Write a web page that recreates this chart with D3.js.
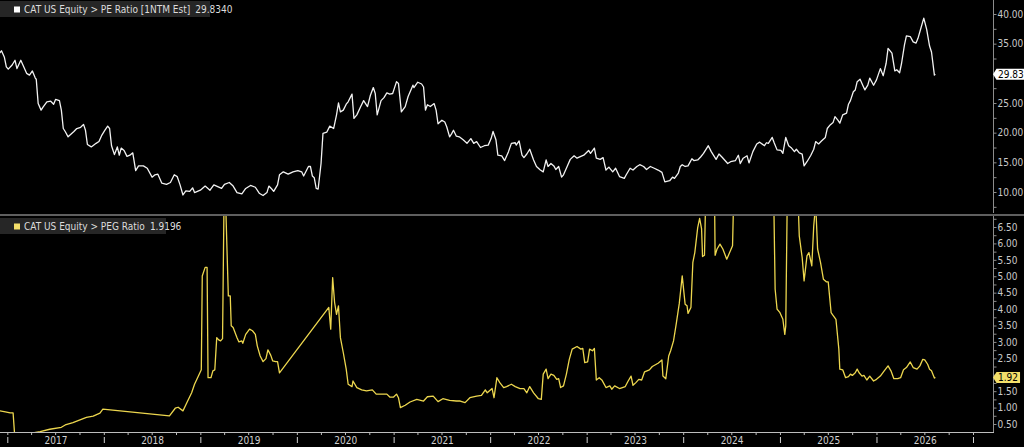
<!DOCTYPE html>
<html>
<head>
<meta charset="utf-8">
<script src="https://cdn.jsdelivr.net/npm/d3@7"></script>
<style>
  html, body { margin: 0; padding: 0; background: #000; }
  svg { display: block; }
  text { font-family: "Liberation Sans Narrow", "Arial Narrow", "DejaVu Sans Condensed", sans-serif; }
</style>
</head>
<body>
<div id="chart"></div>
<script>
// dates are decimal years
const peYears = [
  2016.92, 2016.94, 2016.97, 2016.99, 2017.01, 2017.05, 2017.08, 2017.10, 2017.14, 2017.17, 2017.20, 2017.23, 2017.26, 2017.29, 2017.30, 2017.32, 2017.35, 2017.37, 2017.41, 2017.45, 2017.48, 2017.50, 2017.54, 2017.56, 2017.58, 2017.60, 2017.63, 2017.67, 2017.69, 2017.72, 2017.76, 2017.79, 2017.81, 2017.83, 2017.87, 2017.92, 2017.95, 2017.98,
  2018.01, 2018.04, 2018.06, 2018.08, 2018.11, 2018.14, 2018.16, 2018.18, 2018.21, 2018.24, 2018.27, 2018.30, 2018.33, 2018.36, 2018.41, 2018.45, 2018.50, 2018.53, 2018.56, 2018.60, 2018.65, 2018.69, 2018.73, 2018.76, 2018.79, 2018.82, 2018.85, 2018.89, 2018.92, 2018.94,
  2019.00, 2019.05, 2019.10, 2019.14, 2019.18, 2019.22, 2019.25, 2019.30, 2019.34, 2019.38, 2019.43, 2019.47, 2019.52, 2019.57, 2019.61, 2019.65, 2019.69, 2019.71, 2019.74, 2019.76, 2019.80, 2019.82, 2019.86, 2019.91, 2019.96,
  2020.01, 2020.05, 2020.07, 2020.12, 2020.14, 2020.16, 2020.18, 2020.20, 2020.22, 2020.25, 2020.27, 2020.31, 2020.34, 2020.38, 2020.41, 2020.43, 2020.45, 2020.48, 2020.51, 2020.53, 2020.57, 2020.59, 2020.62, 2020.66, 2020.69, 2020.73, 2020.76, 2020.79, 2020.81, 2020.83, 2020.87, 2020.90, 2020.93, 2020.96, 2020.99,
  2021.03, 2021.05, 2021.08, 2021.12, 2021.15, 2021.20, 2021.21, 2021.25, 2021.29, 2021.31, 2021.33, 2021.35, 2021.38, 2021.42, 2021.44, 2021.46, 2021.50, 2021.53, 2021.55, 2021.58, 2021.60, 2021.62, 2021.65, 2021.68, 2021.72, 2021.76, 2021.80, 2021.83, 2021.86, 2021.90, 2021.94, 2021.98,
  2022.01, 2022.03, 2022.06, 2022.08, 2022.12, 2022.15, 2022.19, 2022.22, 2022.26, 2022.27, 2022.30, 2022.33, 2022.35, 2022.38, 2022.41, 2022.45, 2022.48, 2022.52, 2022.55, 2022.58, 2022.60, 2022.63, 2022.66, 2022.68, 2022.71, 2022.74, 2022.76, 2022.80, 2022.83, 2022.87, 2022.90, 2022.94, 2022.97,
  2023.02, 2023.04, 2023.08, 2023.10, 2023.14, 2023.17, 2023.20, 2023.23, 2023.27, 2023.30, 2023.34, 2023.39, 2023.41, 2023.45, 2023.48, 2023.52, 2023.55, 2023.59, 2023.62, 2023.66, 2023.70, 2023.74, 2023.78, 2023.81, 2023.86, 2023.89, 2023.91, 2023.95, 2023.97, 2023.99,
  2024.02, 2024.05, 2024.09, 2024.11, 2024.15, 2024.18, 2024.21, 2024.26, 2024.29, 2024.34, 2024.37, 2024.40, 2024.46, 2024.49, 2024.54, 2024.57, 2024.59, 2024.62, 2024.66, 2024.68, 2024.72, 2024.76, 2024.79, 2024.84, 2024.86, 2024.88, 2024.92, 2024.94, 2024.97,
  2025.01, 2025.03, 2025.06, 2025.09, 2025.12, 2025.15, 2025.17, 2025.20, 2025.23, 2025.25, 2025.28, 2025.32, 2025.35, 2025.37, 2025.40, 2025.43, 2025.47, 2025.49, 2025.52, 2025.55, 2025.57, 2025.60, 2025.62, 2025.65, 2025.69, 2025.71, 2025.73, 2025.76, 2025.78, 2025.80, 2025.83, 2025.86, 2025.88, 2025.91, 2025.93, 2025.97,
  2026.00, 2026.04, 2026.07, 2026.10, 2026.12, 2026.16, 2026.19, 2026.21, 2026.24, 2026.26, 2026.29, 2026.31, 2026.35, 2026.38, 2026.41, 2026.43, 2026.46, 2026.49, 2026.52, 2026.55, 2026.57, 2026.60, 2026.61
];
const peValues = [
  33.4, 33.8, 32.7, 31.1, 30.7, 31.4, 32.2, 30.8, 32.2, 31.1, 30.0, 29.7, 30.4, 29.2, 29.0, 24.9, 23.8, 24.3, 25.2, 25.3, 24.8, 25.6, 25.4, 23.8, 20.7, 20.2, 19.3, 19.9, 20.2, 20.7, 20.9, 21.4, 20.4, 18.0, 17.6, 18.2, 18.5, 19.6,
  20.4, 21.1, 20.7, 17.8, 16.3, 17.6, 16.2, 17.4, 17.0, 16.0, 16.2, 16.6, 13.6, 14.4, 14.4, 14.0, 12.5, 12.9, 13.0, 11.5, 11.3, 11.6, 12.9, 12.6, 11.2, 9.5, 10.2, 10.1, 10.7, 9.9,
  10.3, 11.0, 10.3, 11.2, 10.9, 10.6, 11.3, 11.6, 11.0, 9.9, 9.7, 10.6, 11.1, 10.8, 9.8, 9.4, 9.9, 11.0, 10.5, 10.1, 11.2, 12.9, 13.4, 13.0, 13.4,
  13.6, 13.4, 12.7, 14.3, 14.3, 12.7, 12.4, 10.6, 10.5, 14.8, 19.9, 20.1, 21.1, 20.7, 23.0, 25.0, 23.5, 23.8, 24.8, 25.2, 26.5, 22.4, 23.0, 24.4, 25.4, 24.4, 26.3, 27.6, 26.6, 23.0, 25.4, 25.9, 26.7, 26.5, 26.6,
  28.6, 28.3, 23.5, 24.4, 26.1, 28.0, 27.6, 28.5, 28.2, 27.7, 23.8, 24.7, 24.4, 24.9, 23.8, 21.5, 22.1, 21.8, 21.0, 19.3, 19.8, 20.4, 19.4, 19.3, 18.8, 18.2, 19.0, 18.2, 18.5, 17.5, 17.8, 17.9,
  19.0, 20.2, 18.8, 16.2, 16.1, 15.3, 16.8, 18.2, 18.3, 17.9, 18.6, 16.2, 15.8, 16.4, 17.2, 15.4, 14.3, 13.7, 13.4, 15.4, 14.3, 14.8, 14.4, 13.8, 14.3, 12.5, 12.9, 14.4, 15.5, 16.1, 15.7, 16.0, 16.2,
  17.0, 16.5, 17.4, 15.7, 15.5, 15.8, 13.7, 14.2, 13.4, 14.0, 12.6, 12.3, 12.9, 14.0, 13.7, 14.3, 14.6, 14.3, 13.8, 14.3, 14.0, 13.7, 13.3, 11.7, 11.9, 12.5, 12.3, 13.2, 14.3, 14.6,
  14.3, 14.4, 15.6, 15.3, 15.4, 15.9, 16.5, 17.8, 16.8, 15.5, 16.4, 15.9, 14.8, 15.1, 15.3, 16.2, 14.8, 15.7, 16.1, 14.9, 16.8, 18.1, 18.4, 17.8, 18.3, 18.2, 19.2, 18.3, 17.1,
  17.0, 16.5, 19.2, 17.8, 17.4, 16.8, 17.2, 16.6, 16.4, 14.4, 15.1, 16.2, 17.2, 18.5, 18.1, 18.6, 19.2, 20.7, 21.3, 21.7, 22.7, 22.1, 21.6, 23.0, 23.3, 24.8, 25.4, 26.9, 27.2, 28.6, 29.0, 27.9, 27.2, 28.0, 29.2, 28.0,
  28.9, 30.8, 29.6, 31.7, 34.2, 33.4, 30.4, 30.6, 30.1, 31.7, 34.8, 36.3, 36.2, 35.3, 35.1, 35.9, 37.6, 39.3, 37.4, 34.6, 33.6, 29.7, 29.834
];

const pegYears = [
  2016.92, 2016.98, 2017.03, 2017.06, 2017.08, 2017.23, 2017.25, 2017.34, 2017.44, 2017.56, 2017.60, 2017.68, 2017.82, 2017.89, 2017.96, 2017.99,
  2018.68, 2018.74, 2018.77, 2018.82, 2018.86, 2018.91, 2018.94, 2018.98,
  2019.01, 2019.02, 2019.05, 2019.07, 2019.08, 2019.11, 2019.13, 2019.15, 2019.17, 2019.19, 2019.21, 2019.23, 2019.25, 2019.29, 2019.31, 2019.32, 2019.34, 2019.38, 2019.40, 2019.43, 2019.44, 2019.47, 2019.51, 2019.54, 2019.57, 2019.59, 2019.62, 2019.65, 2019.68, 2019.70, 2019.73, 2019.75, 2019.78, 2019.80, 2019.82,
  2020.33, 2020.35, 2020.37, 2020.39, 2020.41, 2020.43, 2020.45, 2020.48, 2020.51, 2020.53, 2020.57, 2020.58, 2020.62, 2020.67, 2020.72, 2020.78, 2020.82, 2020.88, 2020.93, 2020.96,
  2021.00, 2021.03, 2021.05, 2021.07, 2021.12, 2021.17, 2021.24, 2021.31, 2021.35, 2021.41, 2021.46, 2021.51, 2021.58, 2021.65, 2021.69, 2021.74, 2021.79, 2021.86, 2021.91, 2021.95, 2021.97,
  2022.02, 2022.04, 2022.07, 2022.10, 2022.14, 2022.17, 2022.22, 2022.26, 2022.31, 2022.35, 2022.38, 2022.41, 2022.45, 2022.50, 2022.53, 2022.55, 2022.58, 2022.60, 2022.63, 2022.66, 2022.69, 2022.71, 2022.73, 2022.76, 2022.79, 2022.82, 2022.85, 2022.90, 2022.94, 2022.96, 2022.98,
  2023.01, 2023.03, 2023.06, 2023.08, 2023.10, 2023.13, 2023.16, 2023.20, 2023.24, 2023.26, 2023.29, 2023.34, 2023.40, 2023.43, 2023.46, 2023.48, 2023.51, 2023.54, 2023.57, 2023.60, 2023.65, 2023.68, 2023.74, 2023.78, 2023.79, 2023.82, 2023.85, 2023.87, 2023.90, 2023.93, 2023.96, 2023.99,
  2024.02, 2024.04, 2024.05, 2024.08, 2024.10, 2024.12, 2024.15, 2024.17, 2024.19, 2024.20, 2024.22, 2024.24, 2024.28, 2024.32, 2024.33, 2024.35, 2024.38, 2024.41, 2024.45, 2024.48, 2024.51, 2024.53, 2024.70, 2024.93, 2024.95, 2024.97,
  2025.00, 2025.03, 2025.05, 2025.06, 2025.08, 2025.13, 2025.18, 2025.20, 2025.23, 2025.25, 2025.28, 2025.30, 2025.33, 2025.35, 2025.37, 2025.39, 2025.42, 2025.45, 2025.48, 2025.50, 2025.53, 2025.55, 2025.58, 2025.61, 2025.62, 2025.65, 2025.68, 2025.71, 2025.73, 2025.75, 2025.78, 2025.80, 2025.82, 2025.85, 2025.87, 2025.90, 2025.93, 2025.97,
  2026.00, 2026.04, 2026.08, 2026.12, 2026.15, 2026.18, 2026.22, 2026.25, 2026.28, 2026.31, 2026.35, 2026.38, 2026.42, 2026.45, 2026.48, 2026.50, 2026.53, 2026.55, 2026.57, 2026.60, 2026.61
];
const pegValues = [
  0.90, 0.87, 0.84, 0.84, 0.0, 0.0, 0.22, 0.27, 0.34, 0.40, 0.47, 0.54, 0.70, 0.74, 0.83, 0.95,
  0.75, 0.98, 1.01, 0.90, 1.15, 1.45, 1.71, 1.96,
  2.15, 5.01, 5.27, 5.27, 1.91, 1.91, 2.12, 2.15, 3.13, 3.06, 3.03, 3.10, 8.5, 4.40, 4.40, 3.49, 3.44, 3.13, 3.00, 3.03, 2.96, 3.23, 3.39, 3.34, 3.23, 2.88, 2.57, 2.40, 2.49, 2.76, 2.59, 2.42, 2.40, 2.40, 2.06,
  4.05, 3.39, 4.96, 4.20, 3.84, 4.10, 3.13, 2.67, 2.17, 1.71, 1.64, 1.81, 1.61, 1.54, 1.51, 1.54, 1.41, 1.41, 1.41, 1.32,
  1.32, 1.41, 1.30, 1.00, 1.07, 1.17, 1.25, 1.20, 1.33, 1.35, 1.18, 1.27, 1.22, 1.20, 1.20, 1.15, 1.30, 1.35, 1.37, 1.54, 1.45,
  1.58, 1.30, 1.91, 1.76, 1.61, 1.64, 1.71, 1.64, 1.58, 1.58, 1.45, 1.64, 1.45, 1.27, 1.25, 2.02, 2.17, 1.88, 2.02, 1.98, 1.86, 1.88, 1.61, 1.66, 2.02, 2.47, 2.78, 2.86, 2.78, 2.80, 2.37,
  2.39, 2.78, 2.73, 2.80, 1.84, 1.91, 1.83, 1.61, 1.66, 1.56, 1.66, 1.58, 1.64, 1.81, 1.96, 1.68, 1.76, 1.86, 1.84, 2.09, 2.15, 2.25, 2.35, 2.45, 1.96, 1.88, 2.57, 2.73, 3.03, 3.59, 4.18, 5.01,
  4.15, 4.10, 3.87, 4.05, 5.42, 5.72, 6.48, 6.76, 6.44, 5.60, 5.64, 8.5, 9.5, 8.5, 5.64, 5.83, 5.98, 5.83, 5.52, 5.72, 5.93, 8.5, 10.0, 8.5, 4.61, 4.00,
  3.89, 3.69, 3.23, 3.49, 8.5, 9.0, 8.0, 6.23, 5.57, 4.86, 5.62, 5.72, 5.32, 6.54, 7.2, 5.83, 5.42, 4.91, 4.83, 4.83, 3.89, 3.81, 3.69, 2.78, 2.17, 2.15, 1.91, 1.94, 2.02, 1.98, 2.06, 2.17, 2.06, 1.96, 1.98, 1.84, 1.96, 1.81,
  1.86, 1.96, 2.12, 2.27, 2.12, 1.88, 1.88, 1.91, 2.15, 2.22, 2.39, 2.22, 2.17, 2.27, 2.47, 2.45, 2.32, 2.17, 2.12, 1.90, 1.9196
];

const peTicks = [10, 15, 20, 25, 30, 35, 40];
const pegTicks = [0.5, 1, 1.5, 2, 2.5, 3, 3.5, 4, 4.5, 5, 5.5, 6, 6.5];
const yearLabels = [2017, 2018, 2019, 2020, 2021, 2022, 2023, 2024, 2025, 2026];
const peName = "CAT US Equity > PE Ratio [1NTM Est]";
const pegName = "CAT US Equity > PEG Ratio";

let width = 1024;
let height = 447;
let axisX = 993;
let peColor = '#f2f2f2';
let pegColor = '#ecd64e';

let peLast = peValues[peValues.length - 1];
let pegLast = pegValues[pegValues.length - 1];

function toDate(t) {
    let y = Math.floor(t);
    let s = Date.UTC(y, 0, 1), e = Date.UTC(y + 1, 0, 1);
    return new Date(s + (t - y) * (e - s));
}

let svg = d3.select('#chart')
    .append('svg')
    .attr('width', width)
    .attr('height', height);

svg.append('rect').attr('width', width).attr('height', height).attr('fill', '#000');

let x = d3.scaleTime()
    .domain([toDate(2017), toDate(2027)])
    .range([7.3, 973]);
let yPE = d3.scaleLinear().domain([10, 40]).range([192, 14]);
let yPEG = d3.scaleLinear().domain([0.5, 6.5]).range([424, 227]);

let defs = svg.append('defs');
defs.append('clipPath').attr('id', 'clipTop')
    .append('rect').attr('x', 0).attr('y', 0).attr('width', axisX).attr('height', 213);
defs.append('clipPath').attr('id', 'clipBot')
    .append('rect').attr('x', 0).attr('y', 216).attr('width', axisX).attr('height', 216.5);

// panel separator
svg.append('rect')
    .attr('x', 0).attr('y', 214)
    .attr('width', width).attr('height', 2)
    .attr('fill', '#5f5f5f');

// lines
let peLine = d3.line()
    .x(d => x(toDate(d[0])))
    .y(d => yPE(d[1]));
let pegLine = d3.line()
    .x(d => x(toDate(d[0])))
    .y(d => yPEG(d[1]));

svg.append('path')
    .attr('clip-path', 'url(#clipTop)')
    .attr('d', peLine(peYears.map((t, i) => [t, peValues[i]])))
    .attr('fill', 'none')
    .attr('stroke', peColor)
    .attr('stroke-width', 1.3)
    .attr('stroke-linejoin', 'round');

svg.append('path')
    .attr('clip-path', 'url(#clipBot)')
    .attr('d', pegLine(pegYears.map((t, i) => [t, pegValues[i]])))
    .attr('fill', 'none')
    .attr('stroke', pegColor)
    .attr('stroke-width', 1.3)
    .attr('stroke-linejoin', 'round');

// right axes, labels under the last-value badge are hidden like on the terminal
function styleAxis(scale, hideAt) {
    return function (g) {
        g.select('.domain').remove();
        g.selectAll('line').attr('stroke', '#8c8c8c');
        g.selectAll('text').attr('fill', '#c9c9c9').style('font-size', '10px');
        g.selectAll('.tick')
            .filter(d => Math.abs(scale(d) - scale(hideAt)) < 9)
            .select('text').remove();
    };
}

svg.append('line')
    .attr('x1', axisX + 0.5).attr('x2', axisX + 0.5)
    .attr('y1', 0).attr('y2', 213)
    .attr('stroke', '#8c8c8c');
svg.append('line')
    .attr('x1', axisX + 0.5).attr('x2', axisX + 0.5)
    .attr('y1', 216).attr('y2', 433)
    .attr('stroke', '#8c8c8c');

svg.append('g')
    .attr('transform', 'translate(' + (axisX + 0.5) + ',0)')
    .call(d3.axisRight(yPE).tickValues(peTicks).tickFormat(d3.format('.2f')).tickSize(3).tickPadding(1))
    .call(styleAxis(yPE, peLast));
svg.append('g')
    .attr('transform', 'translate(' + (axisX + 0.5) + ',0)')
    .call(d3.axisRight(yPE).tickValues(peTicks.map(d => d - 2.5)).tickFormat('').tickSize(3))
    .call(styleAxis(yPE, peLast));

svg.append('g')
    .attr('transform', 'translate(' + (axisX + 0.5) + ',0)')
    .call(d3.axisRight(yPEG).tickValues(pegTicks).tickFormat(d3.format('.2f')).tickSize(3).tickPadding(1))
    .call(styleAxis(yPEG, pegLast));
svg.append('g')
    .attr('transform', 'translate(' + (axisX + 0.5) + ',0)')
    .call(d3.axisRight(yPEG).tickValues(pegTicks.map(d => d + 0.25)).tickFormat('').tickSize(3))
    .call(styleAxis(yPEG, pegLast));

// time axis
svg.append('line')
    .attr('x1', 0).attr('x2', axisX + 1)
    .attr('y1', 432.5).attr('y2', 432.5)
    .attr('stroke', '#bdbdbd');

svg.append('g')
    .attr('transform', 'translate(0,432.5)')
    .call(d3.axisBottom(x).ticks(d3.utcMonth.every(3)).tickFormat('').tickSize(2.5))
    .call(g => g.select('.domain').remove())
    .call(g => g.selectAll('line').attr('stroke', '#bdbdbd'));

svg.append('g')
    .attr('transform', 'translate(0,437)')
    .call(d3.axisBottom(x).tickValues(yearLabels.concat([2027]).map(d => toDate(d))).tickFormat('').tickSize(6))
    .call(g => g.select('.domain').remove())
    .call(g => g.selectAll('line').attr('stroke', '#d0d0d0'));

svg.append('g')
    .attr('transform', 'translate(0,432)')
    .call(d3.axisBottom(x).tickValues(yearLabels.map(d => toDate(d + 0.5))).tickFormat(d3.utcFormat('%Y')).tickSize(0).tickPadding(5))
    .call(g => g.select('.domain').remove())
    .call(g => g.selectAll('text').attr('fill', '#d0d0d0').style('font-size', '10px'));

// legends
function legend(y, w, color, name, value) {
    let g = svg.append('g').attr('transform', 'translate(0,' + y + ')');
    g.append('rect').attr('width', w).attr('height', 16).attr('fill', '#262626');
    g.append('rect').attr('x', 14).attr('y', 5.5).attr('width', 6).attr('height', 6).attr('fill', color);
    let t = g.append('text').attr('x', 24).attr('y', 12).attr('fill', '#dcdcdc').style('font-size', '10px');
    t.append('tspan').text(name);
    t.append('tspan').attr('dx', 5).text(value);
}
legend(1, 210, '#ffffff', peName, peLast.toFixed(4));
legend(218, 166, '#f3df6a', pegName, pegLast.toFixed(4));

// last value badges, box sized to its text
function badge(yv, fill, label) {
    let g = svg.append('g');
    let path = g.append('path').attr('fill', fill);
    let t = g.append('text')
        .attr('x', axisX + 5).attr('y', yv + 3.5)
        .attr('fill', '#000')
        .style('font-size', '10px')
        .text(label);
    let w = t.node().getComputedTextLength();
    let right = axisX + 5 + w + 2;
    path.attr('d', 'M' + axisX + ',' + yv + 'L' + (axisX + 3.5) + ',' + (yv - 5.5) + 'L' + right + ',' + (yv - 5.5) +
        'L' + right + ',' + (yv + 5.5) + 'L' + (axisX + 3.5) + ',' + (yv + 5.5) + 'Z');
}
badge(yPE(peLast), '#ffffff', peLast.toFixed(2));
badge(yPEG(pegLast), '#f3df6a', pegLast.toFixed(2));
</script>
</body>
</html>
